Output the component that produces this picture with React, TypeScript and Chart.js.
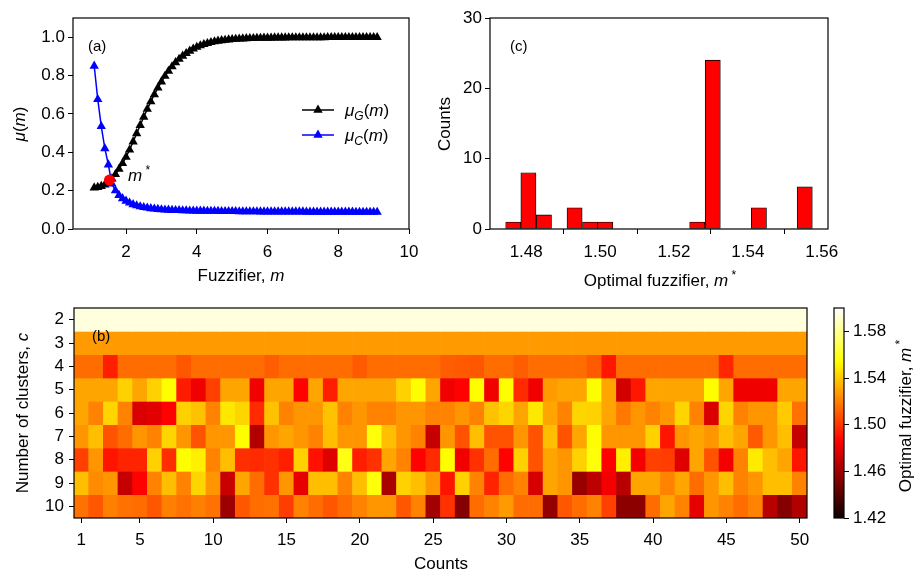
import React, { useEffect, useRef } from 'react';
import { Chart, registerables } from 'chart.js';
Chart.register(...registerables);

const FONT = "'Liberation Sans', Arial, sans-serif";
const W = 916;
const H = 571;

// ---------- panel (a) ----------
const M_VALUES = [
  1.1, 1.2, 1.3, 1.4, 1.5, 1.6, 1.7, 1.8, 1.9, 2.0,
  2.1, 2.2, 2.3, 2.4, 2.5, 2.6, 2.7, 2.8, 2.9, 3.0,
  3.1, 3.2, 3.3, 3.4, 3.5, 3.6, 3.7, 3.8, 3.9, 4.0,
  4.1, 4.2, 4.3, 4.4, 4.5, 4.6, 4.7, 4.8, 4.9, 5.0,
  5.1, 5.2, 5.3, 5.4, 5.5, 5.6, 5.7, 5.8, 5.9, 6.0,
  6.1, 6.2, 6.3, 6.4, 6.5, 6.6, 6.7, 6.8, 6.9, 7.0,
  7.1, 7.2, 7.3, 7.4, 7.5, 7.6, 7.7, 7.8, 7.9, 8.0,
  8.1, 8.2, 8.3, 8.4, 8.5, 8.6, 8.7, 8.8, 8.9, 9.0, 9.1,
];
const MU_G = [
  0.215, 0.218, 0.223, 0.231, 0.243, 0.262, 0.285, 0.312, 0.342, 0.375,
  0.413, 0.455, 0.498, 0.541, 0.584, 0.625, 0.664, 0.701, 0.736, 0.768,
  0.797, 0.823, 0.847, 0.868, 0.886, 0.902, 0.916, 0.928, 0.939, 0.948,
  0.956, 0.963, 0.968, 0.973, 0.977, 0.98, 0.983, 0.985, 0.987, 0.989,
  0.99, 0.991, 0.992, 0.993, 0.994, 0.994, 0.995, 0.995, 0.996, 0.996,
  0.996, 0.997, 0.997, 0.997, 0.997, 0.998, 0.998, 0.998, 0.998, 0.998,
  0.998, 0.998, 0.998, 0.998, 0.998, 0.998, 0.999, 0.999, 0.999, 0.999,
  0.999, 0.999, 0.999, 0.999, 0.999, 0.999, 0.999, 0.999, 0.999, 0.999, 0.999,
];
const MU_C = [
  0.85, 0.676, 0.535, 0.42, 0.335, 0.235, 0.2, 0.176, 0.159, 0.146,
  0.136, 0.128, 0.122, 0.117, 0.113, 0.11, 0.107, 0.105, 0.103, 0.101,
  0.1, 0.099, 0.098, 0.097, 0.097, 0.096, 0.096, 0.095, 0.095, 0.094,
  0.094, 0.094, 0.093, 0.093, 0.093, 0.093, 0.092, 0.092, 0.092, 0.092,
  0.092, 0.091, 0.091, 0.091, 0.091, 0.091, 0.091, 0.09, 0.09, 0.09,
  0.09, 0.09, 0.09, 0.09, 0.09, 0.09, 0.09, 0.09, 0.09, 0.09,
  0.089, 0.089, 0.089, 0.089, 0.089, 0.089, 0.089, 0.089, 0.089, 0.089,
  0.089, 0.089, 0.089, 0.089, 0.088, 0.088, 0.088, 0.088, 0.088, 0.088, 0.088,
];
const M_STAR = 1.53;
const MU_STAR = 0.255;
const A_X_TICKS = [2, 4, 6, 8, 10];
const A_Y_TICKS = [0, 0.2, 0.4, 0.6, 0.8, 1.0];

// ---------- panel (c) ----------
const HIST_CENTERS = [1.4765, 1.4806, 1.4848, 1.4931, 1.4973, 1.5014, 1.5263, 1.5305, 1.543, 1.5554];
const HIST_COUNTS = [1, 8, 2, 3, 1, 1, 1, 24, 3, 6];
const C_X_TICKS = [1.48, 1.5, 1.52, 1.54, 1.56];
const C_Y_TICKS = [0, 10, 20, 30];

// ---------- panel (b) ----------
const COUNT_LABELS = [
  '1', '2', '3', '4', '5', '6', '7', '8', '9', '10',
  '11', '12', '13', '14', '15', '16', '17', '18', '19', '20',
  '21', '22', '23', '24', '25', '26', '27', '28', '29', '30',
  '31', '32', '33', '34', '35', '36', '37', '38', '39', '40',
  '41', '42', '43', '44', '45', '46', '47', '48', '49', '50',
];
const COUNT_TICKS = ['1', '5', '10', '15', '20', '25', '30', '35', '40', '45', '50'];
const CLUSTERS = ['2', '3', '4', '5', '6', '7', '8', '9', '10'];

const ROW_2 = [
  1.594, 1.594, 1.594, 1.594, 1.594, 1.594, 1.594, 1.594, 1.594, 1.594,
  1.594, 1.594, 1.594, 1.594, 1.594, 1.594, 1.594, 1.594, 1.594, 1.594,
  1.594, 1.594, 1.594, 1.594, 1.594, 1.594, 1.594, 1.594, 1.594, 1.594,
  1.594, 1.594, 1.594, 1.594, 1.594, 1.594, 1.594, 1.594, 1.594, 1.594,
  1.594, 1.594, 1.594, 1.594, 1.594, 1.594, 1.594, 1.594, 1.594, 1.594,
];
const ROW_3 = [
  1.527, 1.527, 1.527, 1.527, 1.527, 1.527, 1.527, 1.527, 1.527, 1.527,
  1.527, 1.527, 1.527, 1.527, 1.527, 1.527, 1.527, 1.527, 1.527, 1.527,
  1.527, 1.527, 1.527, 1.527, 1.527, 1.527, 1.527, 1.527, 1.527, 1.527,
  1.527, 1.527, 1.527, 1.527, 1.527, 1.527, 1.527, 1.527, 1.527, 1.527,
  1.527, 1.527, 1.527, 1.527, 1.527, 1.527, 1.527, 1.527, 1.527, 1.527,
];
const ROW_4 = [
  1.515, 1.515, 1.494, 1.515, 1.515, 1.515, 1.515, 1.509, 1.515, 1.515,
  1.515, 1.515, 1.515, 1.511, 1.515, 1.515, 1.515, 1.515, 1.515, 1.51,
  1.515, 1.515, 1.515, 1.515, 1.515, 1.511, 1.51, 1.509, 1.515, 1.515,
  1.511, 1.515, 1.515, 1.515, 1.515, 1.51, 1.492, 1.515, 1.515, 1.515,
  1.515, 1.515, 1.515, 1.515, 1.496, 1.515, 1.515, 1.515, 1.515, 1.515,
];
const ROW_5 = [
  1.53, 1.53, 1.53, 1.542, 1.53, 1.542, 1.554, 1.493, 1.482, 1.503,
  1.53, 1.53, 1.482, 1.53, 1.53, 1.486, 1.53, 1.494, 1.53, 1.53,
  1.53, 1.53, 1.542, 1.554, 1.53, 1.482, 1.486, 1.554, 1.482, 1.554,
  1.497, 1.482, 1.527, 1.53, 1.53, 1.554, 1.53, 1.474, 1.492, 1.53,
  1.53, 1.53, 1.53, 1.554, 1.53, 1.482, 1.482, 1.482, 1.53, 1.53,
];
const ROW_6 = [
  1.53, 1.521, 1.543, 1.521, 1.476, 1.478, 1.486, 1.542, 1.538, 1.521,
  1.548, 1.543, 1.497, 1.538, 1.521, 1.526, 1.526, 1.538, 1.521, 1.526,
  1.521, 1.521, 1.526, 1.526, 1.521, 1.521, 1.526, 1.521, 1.538, 1.543,
  1.53, 1.548, 1.53, 1.521, 1.543, 1.542, 1.53, 1.518, 1.526, 1.521,
  1.526, 1.543, 1.521, 1.476, 1.543, 1.521, 1.526, 1.526, 1.54, 1.516,
];
const ROW_7 = [
  1.526, 1.537, 1.508, 1.515, 1.526, 1.521, 1.543, 1.526, 1.508, 1.526,
  1.526, 1.554, 1.465, 1.526, 1.53, 1.526, 1.521, 1.537, 1.526, 1.526,
  1.556, 1.537, 1.526, 1.521, 1.47, 1.526, 1.508, 1.537, 1.508, 1.508,
  1.526, 1.508, 1.537, 1.508, 1.53, 1.554, 1.526, 1.526, 1.526, 1.542,
  1.491, 1.526, 1.53, 1.526, 1.537, 1.53, 1.51, 1.526, 1.537, 1.47,
];
const ROW_8 = [
  1.503, 1.526, 1.491, 1.495, 1.495, 1.542, 1.498, 1.554, 1.55, 1.521,
  1.537, 1.498, 1.497, 1.499, 1.494, 1.542, 1.49, 1.477, 1.558, 1.494,
  1.499, 1.53, 1.521, 1.486, 1.497, 1.554, 1.482, 1.499, 1.515, 1.486,
  1.542, 1.508, 1.53, 1.526, 1.542, 1.556, 1.486, 1.55, 1.483, 1.503,
  1.502, 1.477, 1.53, 1.508, 1.483, 1.521, 1.549, 1.537, 1.53, 1.491,
];
const ROW_9 = [
  1.537, 1.523, 1.526, 1.47, 1.486, 1.521, 1.537, 1.521, 1.543, 1.526,
  1.471, 1.53, 1.515, 1.499, 1.526, 1.479, 1.537, 1.537, 1.521, 1.537,
  1.556, 1.463, 1.542, 1.537, 1.526, 1.491, 1.542, 1.521, 1.495, 1.515,
  1.521, 1.475, 1.53, 1.526, 1.458, 1.468, 1.483, 1.467, 1.53, 1.53,
  1.521, 1.53, 1.515, 1.526, 1.537, 1.521, 1.526, 1.537, 1.537, 1.521,
];
const ROW_10 = [
  1.516, 1.509, 1.52, 1.516, 1.515, 1.509, 1.52, 1.516, 1.52, 1.516,
  1.459, 1.509, 1.515, 1.516, 1.502, 1.521, 1.515, 1.509, 1.515, 1.521,
  1.526, 1.526, 1.509, 1.521, 1.461, 1.499, 1.453, 1.515, 1.521, 1.527,
  1.515, 1.515, 1.457, 1.509, 1.515, 1.521, 1.503, 1.455, 1.455, 1.515,
  1.53, 1.521, 1.479, 1.526, 1.521, 1.515, 1.521, 1.467, 1.453, 1.465,
];
const HEAT_ROWS = [ROW_2, ROW_3, ROW_4, ROW_5, ROW_6, ROW_7, ROW_8, ROW_9, ROW_10];
const V_MIN = 1.42;
const V_MAX = 1.6;
const CB_TICKS = [1.42, 1.46, 1.5, 1.54, 1.58];

// ---------- helpers ----------
function hot(t: number): string {
  t = Math.max(0, Math.min(1, t));
  const a = 0.365079;
  const b = 0.746032;
  const r = t < a ? 0.0416 + (1 - 0.0416) * (t / a) : 1;
  const g = t < a ? 0 : t < b ? (t - a) / (b - a) : 1;
  const bl = t < b ? 0 : (t - b) / (1 - b);
  return `rgb(${Math.round(r * 255)},${Math.round(g * 255)},${Math.round(bl * 255)})`;
}
const heatColor = (v: number) => hot((v - V_MIN) / (V_MAX - V_MIN));

type Seg = { t: string; i?: boolean; sub?: boolean; sup?: boolean };
function drawRich(
  ctx: CanvasRenderingContext2D,
  segs: Seg[],
  x: number,
  y: number,
  size: number,
  align: 'left' | 'center' = 'center',
  rot = 0
) {
  ctx.save();
  ctx.translate(x, y);
  ctx.rotate(rot);
  const fontFor = (s: Seg) =>
    `${s.i ? 'italic ' : ''}${s.sub || s.sup ? Math.round(size * 0.7) : size}px ${FONT}`;
  let w = 0;
  for (const s of segs) {
    ctx.font = fontFor(s);
    w += ctx.measureText(s.t).width;
  }
  let cx = align === 'center' ? -w / 2 : 0;
  ctx.fillStyle = '#000';
  ctx.textAlign = 'left';
  ctx.textBaseline = 'alphabetic';
  for (const s of segs) {
    ctx.font = fontFor(s);
    const dy = s.sub ? size * 0.25 : s.sup ? -size * 0.42 : 0;
    ctx.fillText(s.t, cx, dy);
    cx += ctx.measureText(s.t).width;
  }
  ctx.restore();
}

const framePlugin = {
  id: 'frame',
  afterDatasetsDraw(chart: any) {
    const { ctx, chartArea: a } = chart;
    ctx.save();
    ctx.strokeStyle = '#000';
    ctx.lineWidth = 1.2;
    ctx.strokeRect(a.left, a.top, a.right - a.left, a.bottom - a.top);
    ctx.restore();
  },
};

function textPlugin(id: string, draw: (ctx: CanvasRenderingContext2D, chart: any) => void) {
  return {
    id,
    afterDraw(chart: any) {
      draw(chart.ctx, chart);
    },
  };
}

const tickFont = { family: FONT, size: 17 };
function axis(extra: any) {
  return {
    grid: { display: true, drawOnChartArea: false, drawTicks: true, tickLength: 5, tickColor: '#000', tickWidth: 1, color: '#000' },
    border: { display: false },
    ...extra,
    ticks: { color: '#000', font: tickFont, autoSkip: false, maxRotation: 0, ...(extra.ticks || {}) },
  };
}

// target chart areas
const A_AREA = { left: 73, top: 18, right: 409, bottom: 229 };
const C_AREA = { left: 490, top: 18, right: 828, bottom: 229 };
const B_AREA = { left: 74, top: 308, right: 807, bottom: 518 };
const CB_AREA = { left: 834, top: 308, right: 844, bottom: 518 };
const Y_AXIS_W = 60;
const X_AXIS_H = 40;
const MARKER_R = 5.4;

function padFor(area: any, yW: number, xH: number, yRight = false) {
  return yRight
    ? { left: area.left, top: area.top, right: W - area.right - yW, bottom: H - area.bottom - xH }
    : { left: area.left - yW, top: area.top, right: W - area.right, bottom: H - area.bottom - xH };
}

function makeA(canvas: HTMLCanvasElement) {
  return new Chart(canvas, {
    type: 'line',
    data: {
      datasets: [
        {
          label: 'm*',
          data: [{ x: M_STAR, y: MU_STAR }],
          showLine: false,
          pointStyle: 'circle',
          pointRadius: 5.5,
          pointBackgroundColor: '#ff0000',
          pointBorderColor: '#ff0000',
          pointBorderWidth: 0,
        },
        {
          label: 'muC',
          data: M_VALUES.map((m, i) => ({ x: m, y: MU_C[i] })),
          borderColor: '#0000ff',
          backgroundColor: '#0000ff',
          borderWidth: 1.5,
          pointStyle: 'triangle',
          pointRadius: MARKER_R,
          pointBackgroundColor: '#0000ff',
          pointBorderColor: '#0000ff',
          pointBorderWidth: 0,
        },
        {
          label: 'muG',
          data: M_VALUES.map((m, i) => ({ x: m, y: MU_G[i] })),
          borderColor: '#000000',
          backgroundColor: '#000000',
          borderWidth: 1.5,
          pointStyle: 'triangle',
          pointRadius: MARKER_R,
          pointBackgroundColor: '#000000',
          pointBorderColor: '#000000',
          pointBorderWidth: 0,
        },
      ],
    },
    options: {
      animation: false,
      responsive: false,
      devicePixelRatio: 1,
      layout: { padding: padFor(A_AREA, Y_AXIS_W, X_AXIS_H) },
      plugins: { legend: { display: false }, tooltip: { enabled: false } },
      scales: {
        x: axis({
          type: 'linear',
          min: 0.5,
          max: 10,
          afterBuildTicks: (s: any) => { s.ticks = A_X_TICKS.map((v) => ({ value: v })); },
          afterFit: (s: any) => { s.height = X_AXIS_H; },
          ticks: { padding: 8, callback: (v: any) => String(v) },
        }),
        y: axis({
          type: 'linear',
          min: 0,
          max: 1.1,
          afterBuildTicks: (s: any) => { s.ticks = A_Y_TICKS.map((v) => ({ value: v })); },
          afterFit: (s: any) => { s.width = Y_AXIS_W; },
          ticks: { padding: 3, callback: (v: any) => Number(v).toFixed(1) },
        }),
      },
    },
    plugins: [
      framePlugin,
      textPlugin('textA', (ctx) => {
        drawRich(ctx, [{ t: 'μ', i: true }, { t: '(' }, { t: 'm', i: true }, { t: ')' }], 25, 124, 17, 'center', -Math.PI / 2);
        drawRich(ctx, [{ t: 'Fuzzifier, ' }, { t: 'm', i: true }], 241, 281, 17);
        drawRich(ctx, [{ t: '(a)' }], 88, 51, 15, 'left');
        drawRich(ctx, [{ t: 'm', i: true }, { t: ' *', sup: true }], 128, 181, 17, 'left');
        // legend
        const rows = [
          { y: 110, color: '#000000', sub: 'G' },
          { y: 135, color: '#0000ff', sub: 'C' },
        ];
        for (const r of rows) {
          ctx.save();
          ctx.strokeStyle = r.color;
          ctx.fillStyle = r.color;
          ctx.lineWidth = 1.5;
          ctx.beginPath();
          ctx.moveTo(302, r.y);
          ctx.lineTo(334, r.y);
          ctx.stroke();
          const rad = MARKER_R;
          ctx.beginPath();
          ctx.moveTo(318, r.y - rad);
          ctx.lineTo(318 + rad * 0.866, r.y + rad * 0.5);
          ctx.lineTo(318 - rad * 0.866, r.y + rad * 0.5);
          ctx.closePath();
          ctx.fill();
          ctx.restore();
          drawRich(ctx, [{ t: 'μ', i: true }, { t: r.sub, i: true, sub: true }, { t: '(' }, { t: 'm', i: true }, { t: ')' }], 345, r.y + 6, 17, 'left');
        }
      }),
    ],
  } as any);
}

function makeC(canvas: HTMLCanvasElement) {
  return new Chart(canvas, {
    type: 'bar',
    data: {
      datasets: [
        {
          label: 'counts',
          data: HIST_CENTERS.map((c, i) => ({ x: c, y: HIST_COUNTS[i] })),
          backgroundColor: '#ff0000',
          borderColor: '#000000',
          borderWidth: 0.8,
          borderSkipped: false,
          barPercentage: 1,
          categoryPercentage: 1,
        },
      ],
    },
    options: {
      animation: false,
      responsive: false,
      devicePixelRatio: 1,
      layout: { padding: padFor(C_AREA, Y_AXIS_W, X_AXIS_H) },
      plugins: { legend: { display: false }, tooltip: { enabled: false } },
      scales: {
        x: axis({
          type: 'linear',
          min: 1.4702,
          max: 1.5617,
          offset: false,
          afterBuildTicks: (s: any) => { s.ticks = C_X_TICKS.map((v) => ({ value: v })); },
          afterFit: (s: any) => { s.height = X_AXIS_H; },
          ticks: { padding: 8, callback: (v: any) => Number(v).toFixed(2) },
        }),
        y: axis({
          type: 'linear',
          min: 0,
          max: 30,
          afterBuildTicks: (s: any) => { s.ticks = C_Y_TICKS.map((v) => ({ value: v })); },
          afterFit: (s: any) => { s.width = Y_AXIS_W; },
          ticks: { padding: 3, callback: (v: any) => String(v) },
        }),
      },
    },
    plugins: [
      framePlugin,
      textPlugin('textC', (ctx) => {
        drawRich(ctx, [{ t: 'Counts' }], 450, 124, 17, 'center', -Math.PI / 2);
        drawRich(ctx, [{ t: 'Optimal fuzzifier, ' }, { t: 'm', i: true }, { t: ' *', sup: true }], 660, 286, 17);
        drawRich(ctx, [{ t: '(c)' }], 510, 51, 15, 'left');
      }),
    ],
  } as any);
}

function makeB(canvas: HTMLCanvasElement) {
  return new Chart(canvas, {
    type: 'bar',
    data: {
      labels: COUNT_LABELS,
      datasets: HEAT_ROWS.map((row, i) => ({
        label: CLUSTERS[i],
        data: row.map(() => [i, i + 1]),
        backgroundColor: row.map(heatColor),
        borderWidth: 0,
        barPercentage: 1,
        categoryPercentage: 1,
        grouped: false,
      })),
    },
    options: {
      animation: false,
      responsive: false,
      devicePixelRatio: 1,
      layout: { padding: padFor(B_AREA, Y_AXIS_W, 36) },
      plugins: { legend: { display: false }, tooltip: { enabled: false } },
      scales: {
        x: axis({
          type: 'category',
          offset: true,
          grid: { display: true, offset: false, drawOnChartArea: false, drawTicks: true, tickLength: 5, tickColor: '#000', tickWidth: 1, color: '#000' },
          afterBuildTicks: (s: any) => {
            s.ticks = s.ticks.filter((t: any) => COUNT_TICKS.includes(COUNT_LABELS[t.value]));
          },
          afterFit: (s: any) => { s.height = 36; },
          ticks: { padding: 7 },
        }),
        y: axis({
          type: 'linear',
          min: 0,
          max: 9,
          reverse: true,
          afterBuildTicks: (s: any) => { s.ticks = CLUSTERS.map((_, i) => ({ value: i + 0.5 })); },
          afterFit: (s: any) => { s.width = Y_AXIS_W; },
          ticks: { padding: 5, callback: (v: any) => CLUSTERS[Math.round(Number(v) - 0.5)] },
        }),
      },
    },
    plugins: [
      framePlugin,
      textPlugin('textB', (ctx) => {
        drawRich(ctx, [{ t: 'Number of clusters, ' }, { t: 'c', i: true }], 28, 413, 17, 'center', -Math.PI / 2);
        drawRich(ctx, [{ t: 'Counts' }], 441, 569, 17);
        drawRich(ctx, [{ t: '(b)' }], 92, 341, 15, 'left');
      }),
    ],
  } as any);
}

function makeCB(canvas: HTMLCanvasElement) {
  return new Chart(canvas, {
    type: 'bar',
    data: {
      labels: ['m*'],
      datasets: [
        {
          label: 'colorbar',
          data: [[V_MIN, V_MAX]],
          backgroundColor: (c: any) => {
            const a = c.chart.chartArea;
            if (!a) return '#ff0000';
            const g = c.chart.ctx.createLinearGradient(0, a.bottom, 0, a.top);
            g.addColorStop(0, hot(0));
            g.addColorStop(0.365079, hot(0.365079));
            g.addColorStop(0.746032, hot(0.746032));
            g.addColorStop(1, hot(1));
            return g;
          },
          borderWidth: 0,
          barPercentage: 1,
          categoryPercentage: 1,
        },
      ],
    },
    options: {
      animation: false,
      responsive: false,
      devicePixelRatio: 1,
      layout: { padding: padFor(CB_AREA, 60, 0, true) },
      plugins: { legend: { display: false }, tooltip: { enabled: false } },
      scales: {
        x: { type: 'category', display: false, offset: true },
        y: axis({
          type: 'linear',
          position: 'right',
          min: V_MIN,
          max: V_MAX,
          afterBuildTicks: (s: any) => { s.ticks = CB_TICKS.map((v) => ({ value: v })); },
          afterFit: (s: any) => { s.width = 60; },
          ticks: { padding: 4, callback: (v: any) => Number(v).toFixed(2) },
        }),
      },
    },
    plugins: [
      framePlugin,
      textPlugin('textCB', (ctx) => {
        drawRich(ctx, [{ t: 'Optimal fuzzifier, ' }, { t: 'm', i: true }, { t: ' *', sup: true }], 911, 416, 17, 'center', -Math.PI / 2);
      }),
    ],
  } as any);
}

export default function App() {
  const aRef = useRef<HTMLCanvasElement>(null);
  const bRef = useRef<HTMLCanvasElement>(null);
  const cRef = useRef<HTMLCanvasElement>(null);
  const cbRef = useRef<HTMLCanvasElement>(null);

  useEffect(() => {
    const charts = [
      makeA(aRef.current!),
      makeC(cRef.current!),
      makeB(bRef.current!),
      makeCB(cbRef.current!),
    ];
    return () => charts.forEach((c) => c.destroy());
  }, []);

  const cs: React.CSSProperties = { position: 'absolute', left: 0, top: 0, width: W, height: H };
  return (
    <div style={{ position: 'fixed', left: 0, top: 0, width: W, height: H, background: '#fff' }}>
      <canvas ref={aRef} width={W} height={H} style={cs} />
      <canvas ref={cRef} width={W} height={H} style={cs} />
      <canvas ref={bRef} width={W} height={H} style={cs} />
      <canvas ref={cbRef} width={W} height={H} style={cs} />
    </div>
  );
}
